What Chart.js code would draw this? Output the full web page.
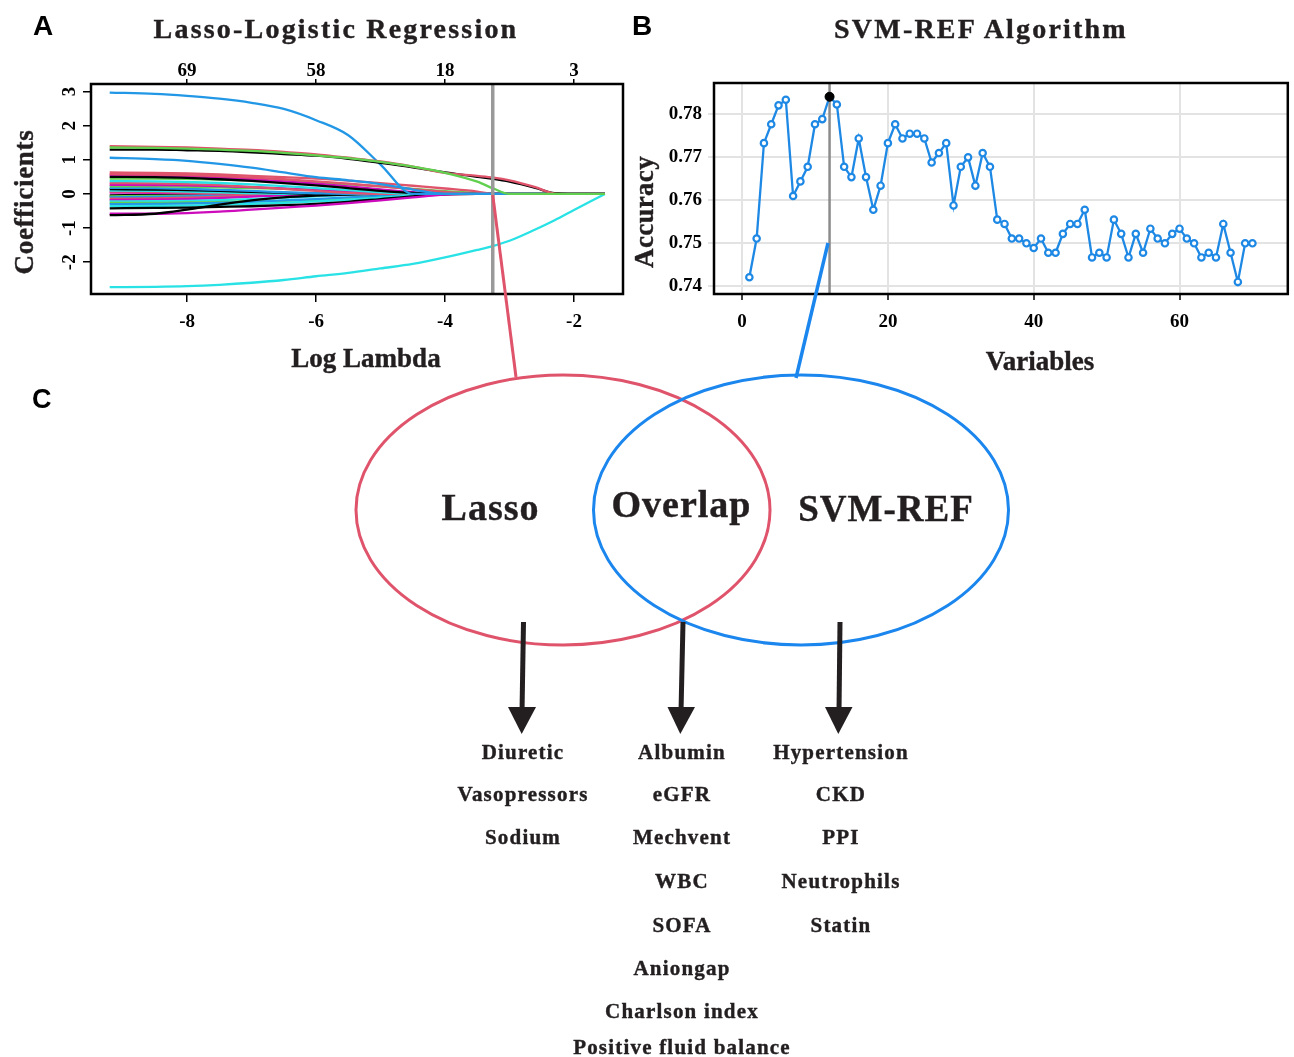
<!DOCTYPE html>
<html>
<head>
<meta charset="utf-8">
<title>Lasso-Logistic Regression and SVM-REF feature selection</title>
<script src="https://cdn.jsdelivr.net/npm/chart.js@4.4.1/dist/chart.umd.min.js"></script>
<style>
  html, body { margin: 0; padding: 0; background: #fff; }
  #page { position: relative; width: 1294px; height: 1057px; overflow: hidden; }
  canvas { position: absolute; }
  #lassoChart { left: 0; top: 0; }
  #svmChart { left: 640px; top: 0; }
  #overlay { position: absolute; left: 0; top: 0; pointer-events: none; }
  .serif { font-family: "Liberation Serif", "Times New Roman", serif; font-weight: bold; fill: #231f20; stroke: #231f20; stroke-width: 0.4px; }
  .letter { font-family: "Liberation Sans", Arial, sans-serif; font-weight: bold; font-size: 28px; fill: #000; }
</style>
</head>
<body>
<div id="page">
  <canvas id="lassoChart" width="640" height="380"></canvas>
  <canvas id="svmChart" width="654" height="380"></canvas>
  <svg id="overlay" width="1294" height="1057" xmlns="http://www.w3.org/2000/svg">
    <text class="letter" x="33" y="35">A</text>
    <text class="letter" x="632" y="35">B</text>
    <text class="letter" x="32" y="408" style="font-size:27px">C</text>

    <text class="serif" x="336" y="38" text-anchor="middle" font-size="28" letter-spacing="2.2">Lasso-Logistic Regression</text>
    <text class="serif" x="981" y="38" text-anchor="middle" font-size="28" letter-spacing="2.2">SVM-REF Algorithm</text>
    <text class="serif" transform="translate(33,202) rotate(-90)" text-anchor="middle" font-size="27" letter-spacing="0.7">Coefficients</text>
    <text class="serif" transform="translate(653,212) rotate(-90)" text-anchor="middle" font-size="27" letter-spacing="0.3">Accuracy</text>
    <text class="serif" x="366" y="367" text-anchor="middle" font-size="27">Log Lambda</text>
    <text class="serif" x="1040" y="370" text-anchor="middle" font-size="27">Variables</text>

    <line id="lassoLink" x1="493" y1="194" x2="516" y2="377" stroke="#DF536B" stroke-width="3"/>
    <line x1="828" y1="243" x2="796" y2="378" stroke="#1A86EE" stroke-width="3.5"/>

    <ellipse cx="563" cy="510" rx="207" ry="135" fill="none" stroke="#DF536B" stroke-width="3"/>
    <ellipse cx="801" cy="510" rx="207.5" ry="135" fill="none" stroke="#1A86EE" stroke-width="3"/>

    <text class="serif" x="490.5" y="520" text-anchor="middle" font-size="38" letter-spacing="1">Lasso</text>
    <text class="serif" x="681.5" y="517" text-anchor="middle" font-size="38" letter-spacing="1">Overlap</text>
    <text class="serif" x="886" y="521" text-anchor="middle" font-size="37" letter-spacing="1">SVM-REF</text>

    <g stroke="#231f20" stroke-width="5">
      <line x1="523.5" y1="622" x2="522" y2="712"/>
      <line x1="683" y1="622" x2="681" y2="712"/>
      <line x1="840" y1="622" x2="839" y2="712"/>
    </g>
    <g fill="#231f20">
      <polygon points="508,707 536,707 521.7,734"/>
      <polygon points="667.5,707 695,707 680.3,734"/>
      <polygon points="825,707 852.5,707 838.3,734"/>
    </g>
    <g id="lists"></g>
  </svg>
</div>

<script>
// ---- Panel A: lasso coefficient paths ----
const logLambda = [-9.2, -8.5, -8, -7.5, -7, -6.5, -6, -5.5, -5, -4.5, -4, -3.5, -3.25, -3, -2.6, -2.3, -2, -1.52];
const lambdaTicks = [-8, -6, -4, -2];
const lassoDf = ['69', '58', '18', '3'];
const coefTicks = [-2, -1, 0, 1, 2, 3];
const lambdaMin = -3.26;

// R default palette: black, red, green, blue, cyan, magenta
const rPalette = ['#000000', '#DF536B', '#61D04F', '#2297E6', '#28E2E5', '#CD0BBC'];

const lassoPaths = [
  [1.36, 1.35, 1.33, 1.30, 1.26, 1.20, 1.13, 1.05, 0.94, 0.80, 0.62, 0.36, 0.16, 0, 0, 0, 0, 0],
  [1.40, 1.38, 1.36, 1.33, 1.29, 1.23, 1.16, 1.06, 0.95, 0.80, 0.62, 0.53, 0.48, 0.40, 0.20, 0.01, 0, 0],
  [1.30, 1.30, 1.28, 1.26, 1.22, 1.17, 1.12, 1.03, 0.91, 0.78, 0.63, 0.50, 0.44, 0.36, 0.18, 0.02, 0, 0],
  [2.97, 2.93, 2.87, 2.79, 2.67, 2.49, 2.16, 1.72, 0.86, 0, 0, 0, 0, 0, 0, 0, 0, 0],
  [1.06, 1.02, 0.97, 0.88, 0.77, 0.63, 0.49, 0.40, 0.29, 0.13, 0, 0, 0, 0, 0, 0, 0, 0],
  [-2.73, -2.72, -2.70, -2.66, -2.60, -2.52, -2.41, -2.31, -2.18, -2.05, -1.86, -1.64, -1.52, -1.37, -1.04, -0.77, -0.47, 0],
  [0.63, 0.62, 0.60, 0.57, 0.53, 0.49, 0.45, 0.39, 0.32, 0.24, 0.16, 0.07, 0, 0, 0, 0, 0, 0],
  [0.58, 0.57, 0.55, 0.52, 0.48, 0.43, 0.37, 0.30, 0.22, 0.14, 0.06, 0, 0, 0, 0, 0, 0, 0],
  [0.50, 0.49, 0.47, 0.43, 0.38, 0.32, 0.25, 0.17, 0.09, 0.03, 0, 0, 0, 0, 0, 0, 0, 0],
  [0.55, 0.54, 0.52, 0.48, 0.43, 0.37, 0.30, 0.22, 0.13, 0.05, 0, 0, 0, 0, 0, 0, 0, 0],
  [0.45, 0.45, 0.44, 0.42, 0.40, 0.37, 0.33, 0.28, 0.22, 0.15, 0.08, 0.03, 0, 0, 0, 0, 0, 0],
  [0.38, 0.37, 0.35, 0.32, 0.28, 0.23, 0.17, 0.11, 0.05, 0, 0, 0, 0, 0, 0, 0, 0, 0],
  [0.32, 0.31, 0.29, 0.26, 0.21, 0.15, 0.09, 0.03, 0, 0, 0, 0, 0, 0, 0, 0, 0, 0],
  [0.27, 0.26, 0.25, 0.23, 0.20, 0.16, 0.11, 0.06, 0.01, 0, 0, 0, 0, 0, 0, 0, 0, 0],
  [0.22, 0.22, 0.21, 0.19, 0.17, 0.15, 0.12, 0.09, 0.06, 0.03, 0.01, 0, 0, 0, 0, 0, 0, 0],
  [0.18, 0.17, 0.15, 0.12, 0.09, 0.05, 0.02, 0, 0, 0, 0, 0, 0, 0, 0, 0, 0, 0],
  [0.14, 0.13, 0.11, 0.09, 0.06, 0.03, 0, 0, 0, 0, 0, 0, 0, 0, 0, 0, 0, 0],
  [0.10, 0.09, 0.07, 0.05, 0.02, 0, 0, 0, 0, 0, 0, 0, 0, 0, 0, 0, 0, 0],
  [0.07, 0.06, 0.04, 0.02, 0, 0, 0, 0, 0, 0, 0, 0, 0, 0, 0, 0, 0, 0],
  [0.04, 0.03, 0.02, 0.01, 0, 0, 0, 0, 0, 0, 0, 0, 0, 0, 0, 0, 0, 0],
  [-0.62, -0.58, -0.46, -0.31, -0.19, -0.10, -0.05, -0.02, 0, 0, 0, 0, 0, 0, 0, 0, 0, 0],
  [-0.58, -0.58, -0.56, -0.52, -0.46, -0.40, -0.34, -0.27, -0.19, -0.10, -0.02, 0, 0, 0, 0, 0, 0, 0],
  [-0.42, -0.41, -0.40, -0.38, -0.36, -0.33, -0.29, -0.23, -0.15, -0.07, -0.01, 0, 0, 0, 0, 0, 0, 0],
  [-0.36, -0.35, -0.34, -0.32, -0.29, -0.26, -0.22, -0.17, -0.11, -0.05, 0, 0, 0, 0, 0, 0, 0, 0],
  [-0.30, -0.29, -0.28, -0.26, -0.23, -0.19, -0.15, -0.10, -0.05, -0.01, 0, 0, 0, 0, 0, 0, 0, 0],
  [-0.26, -0.26, -0.25, -0.24, -0.22, -0.20, -0.17, -0.13, -0.09, -0.05, -0.01, 0, 0, 0, 0, 0, 0, 0],
  [-0.22, -0.21, -0.20, -0.18, -0.15, -0.11, -0.07, -0.03, 0, 0, 0, 0, 0, 0, 0, 0, 0, 0],
  [-0.18, -0.17, -0.15, -0.12, -0.08, -0.04, -0.01, 0, 0, 0, 0, 0, 0, 0, 0, 0, 0, 0],
  [-0.14, -0.13, -0.11, -0.08, -0.05, -0.02, 0, 0, 0, 0, 0, 0, 0, 0, 0, 0, 0, 0],
  [-0.10, -0.09, -0.07, -0.05, -0.02, 0, 0, 0, 0, 0, 0, 0, 0, 0, 0, 0, 0, 0],
  [-0.07, -0.06, -0.05, -0.03, -0.01, 0, 0, 0, 0, 0, 0, 0, 0, 0, 0, 0, 0, 0],
  [-0.04, -0.03, -0.02, -0.01, 0, 0, 0, 0, 0, 0, 0, 0, 0, 0, 0, 0, 0, 0]
];
const lassoPathColors = [2, 1, 0, 3, 3, 4, 1, 1, 0, 5, 2, 4, 1, 5, 2, 3, 0, 4, 1, 5,
                         0, 5, 0, 4, 3, 2, 4, 5, 1, 3, 2, 0];

// ---- Panel B: SVM-RFE accuracy ----
const svmVariables = Array.from({ length: 70 }, (_, i) => i + 1);
const svmAccuracy = [
  0.7420, 0.7510, 0.7732, 0.7776, 0.7820, 0.7833, 0.7609, 0.7643, 0.7677, 0.7776,
  0.7788, 0.7840, 0.7822, 0.7677, 0.7653, 0.7743, 0.7653, 0.7577, 0.7633, 0.7732,
  0.7776, 0.7743, 0.7754, 0.7754, 0.7743, 0.7687, 0.7709, 0.7732, 0.7587, 0.7677,
  0.7699, 0.7633, 0.7709, 0.7677, 0.7554, 0.7544, 0.7510, 0.7510, 0.7499, 0.7488,
  0.7510, 0.7477, 0.7477, 0.7521, 0.7544, 0.7544, 0.7577, 0.7466, 0.7477, 0.7466,
  0.7554, 0.7521, 0.7466, 0.7521, 0.7477, 0.7533, 0.7510, 0.7499, 0.7521, 0.7533,
  0.7510, 0.7499, 0.7466, 0.7477, 0.7466, 0.7544, 0.7477, 0.7409, 0.7499, 0.7499
];
const svmBest = 12;
const svmXTicks = [0, 20, 40, 60];
const svmYTicks = [0.74, 0.75, 0.76, 0.77, 0.78];

// ---- Panel C: selected variables ----
const lassoOnlyVars = ['Diuretic', 'Vasopressors', 'Sodium'];
const overlapVars = ['Albumin', 'eGFR', 'Mechvent', 'WBC', 'SOFA', 'Aniongap', 'Charlson index', 'Positive fluid balance'];
const svmOnlyVars = ['Hypertension', 'CKD', 'PPI', 'Neutrophils', 'Statin'];

const serif = '"Liberation Serif", "Times New Roman", serif';
const tickFont = { family: serif, size: 19, weight: 'bold' };

// black box round the plot area
const frame = {
  id: 'frame',
  afterDraw(chart) {
    const { ctx, chartArea: a } = chart;
    ctx.save();
    ctx.lineWidth = 2.5;
    ctx.strokeStyle = '#000';
    ctx.strokeRect(a.left, a.top, a.right - a.left, a.bottom - a.top);
    ctx.restore();
  }
};

// R style y labels, parallel to the axis
const rotatedYLabels = {
  id: 'rotatedYLabels',
  afterDraw(chart) {
    const y = chart.scales.y;
    const ctx = chart.ctx;
    ctx.save();
    ctx.font = 'bold 19px ' + serif;
    ctx.fillStyle = '#000';
    ctx.textAlign = 'center';
    ctx.textBaseline = 'middle';
    y.ticks.forEach(t => {
      ctx.save();
      ctx.translate(y.right - 21, y.getPixelForValue(t.value));
      ctx.rotate(-Math.PI / 2);
      ctx.fillText(String(t.value), 0, 0);
      ctx.restore();
    });
    ctx.restore();
  }
};

const lassoX = { min: -9.49, max: -1.24 };
const lassoY = { min: -2.93, max: 3.22 };

const lassoDatasets = lassoPaths.map((path, i) => ({
  data: path.map((v, j) => ({ x: logLambda[j], y: v })),
  borderColor: rPalette[lassoPathColors[i]],
  borderWidth: 2.3,
  pointRadius: 0,
  cubicInterpolationMode: 'monotone'
}));
lassoDatasets.push({
  data: [{ x: lambdaMin, y: lassoY.min }, { x: lambdaMin, y: lassoY.max }],
  borderColor: '#9a9a9a',
  borderWidth: 3.5,
  pointRadius: 0,
  order: -1
});

const lassoChart = new Chart(document.getElementById('lassoChart'), {
  type: 'line',
  data: { datasets: lassoDatasets },
  options: {
    responsive: false,
    animation: false,
    devicePixelRatio: 1,
    layout: { padding: { left: 0, right: 17, top: 0, bottom: 0 } },
    plugins: { legend: { display: false }, tooltip: { enabled: false } },
    scales: {
      x: {
        type: 'linear', position: 'bottom', min: lassoX.min, max: lassoX.max,
        afterFit: s => { s.height = 86; },
        afterBuildTicks: s => { s.ticks = lambdaTicks.map(v => ({ value: v })); },
        grid: { drawOnChartArea: false, drawTicks: true, tickLength: 8, color: '#000', lineWidth: 1.5 },
        border: { display: false },
        ticks: { font: tickFont, color: '#000', padding: 9, maxRotation: 0 }
      },
      xTop: {
        type: 'linear', position: 'top', min: lassoX.min, max: lassoX.max,
        afterFit: s => { s.height = 84; },
        afterBuildTicks: s => { s.ticks = lambdaTicks.map(v => ({ value: v })); },
        grid: { drawOnChartArea: false, drawTicks: true, tickLength: 5, color: '#000', lineWidth: 1.5 },
        border: { display: false },
        ticks: { font: tickFont, color: '#000', padding: -3, maxRotation: 0, callback: (v, i) => lassoDf[i] }
      },
      y: {
        type: 'linear', min: lassoY.min, max: lassoY.max,
        afterFit: s => { s.width = 91; },
        afterBuildTicks: s => { s.ticks = coefTicks.map(v => ({ value: v })); },
        grid: { drawOnChartArea: false, drawTicks: true, tickLength: 8, color: '#000', lineWidth: 1.5 },
        border: { display: false },
        ticks: { display: false }
      }
    }
  },
  plugins: [frame, rotatedYLabels]
});

// start the red link at lambda.min on the zero line
const link = document.getElementById('lassoLink');
link.setAttribute('x1', lassoChart.scales.x.getPixelForValue(lambdaMin));
link.setAttribute('y1', lassoChart.scales.y.getPixelForValue(0) + 1);

const svmY = { min: 0.7381, max: 0.7872 };
const gridGray = '#e3e3e3';

new Chart(document.getElementById('svmChart'), {
  type: 'line',
  data: {
    datasets: [
      {
        data: [{ x: svmBest, y: svmAccuracy[svmBest - 1] }],
        showLine: false,
        pointRadius: 4.5,
        pointBackgroundColor: '#000',
        pointBorderColor: '#000',
        order: -2
      },
      {
        data: svmVariables.map((n, i) => ({ x: n, y: svmAccuracy[i] })),
        borderColor: '#1E88E5',
        borderWidth: 2.3,
        pointRadius: 3.2,
        pointBorderWidth: 2.2,
        pointBackgroundColor: '#ffffff',
        pointBorderColor: '#1E88E5',
        tension: 0,
        order: 0
      },
      {
        data: [{ x: svmBest, y: svmY.min }, { x: svmBest, y: svmY.max }],
        borderColor: '#8c8c8c',
        borderWidth: 2.5,
        pointRadius: 0,
        order: 1
      }
    ]
  },
  options: {
    responsive: false,
    animation: false,
    devicePixelRatio: 1,
    layout: { padding: { left: 0, right: 2, top: 83, bottom: 0 } },
    plugins: { legend: { display: false }, tooltip: { enabled: false } },
    scales: {
      x: {
        type: 'linear', min: -3.85, max: 74.85,
        afterFit: s => { s.height = 86; },
        afterBuildTicks: s => { s.ticks = svmXTicks.map(v => ({ value: v })); },
        grid: { color: gridGray, lineWidth: 2, drawTicks: true, tickLength: 6, tickColor: '#000', tickWidth: 1.5 },
        border: { display: false },
        ticks: { font: tickFont, color: '#000', padding: 11, maxRotation: 0 }
      },
      y: {
        type: 'linear', min: svmY.min, max: svmY.max,
        afterFit: s => { s.width = 74; },
        afterBuildTicks: s => { s.ticks = svmYTicks.map(v => ({ value: v })); },
        grid: { color: gridGray, lineWidth: 2, drawTicks: true, tickLength: 6 },
        border: { display: false },
        ticks: { font: tickFont, color: '#000', padding: 6, callback: v => v.toFixed(2) }
      }
    }
  },
  plugins: [frame]
});

// ---- Panel C lists under the arrows ----
const rowBaselines = [759, 801, 844, 888, 931.5, 975, 1017.5, 1054];
const listColumns = [
  { x: 523, items: lassoOnlyVars },
  { x: 682, items: overlapVars },
  { x: 841, items: svmOnlyVars }
];
const lists = document.getElementById('lists');
listColumns.forEach(col => {
  col.items.forEach((name, i) => {
    const t = document.createElementNS('http://www.w3.org/2000/svg', 'text');
    t.setAttribute('class', 'serif');
    t.setAttribute('x', col.x);
    t.setAttribute('y', rowBaselines[i]);
    t.setAttribute('text-anchor', 'middle');
    t.setAttribute('font-size', '21');
    t.setAttribute('letter-spacing', '1.2');
    t.textContent = name;
    lists.appendChild(t);
  });
});
</script>
</body>
</html>
